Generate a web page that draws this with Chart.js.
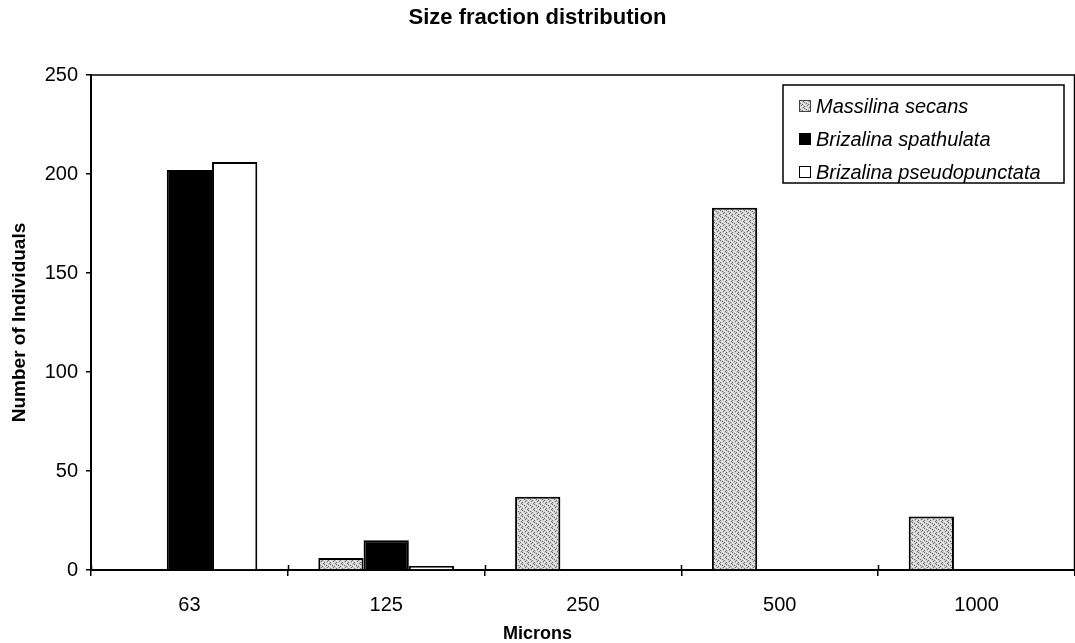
<!DOCTYPE html>
<html>
<head>
<meta charset="utf-8">
<title>Size fraction distribution</title>
<script src="https://cdn.jsdelivr.net/npm/chart.js@4.4.1/dist/chart.umd.min.js"></script>
<style>
  html, body { margin: 0; padding: 0; background: #fff; }
  #wrap { width: 1075px; height: 643px; position: relative; }
</style>
</head>
<body>
<div id="wrap"><canvas id="chart" width="1075" height="643"></canvas></div>
<script>
// Size classes (sieve mesh, microns) and counts per species
const sizeClasses = ['63', '125', '250', '500', '1000'];
const seriesNames = ['Massilina secans', 'Brizalina spathulata', 'Brizalina pseudopunctata'];
const massilinaSecans = [0, 6, 37, 183, 27];
const brizalinaSpathulata = [202, 15, 0, 0, 0];
const brizalinaPseudopunctata = [206, 2, 0, 0, 0];
const yTickValues = [0, 50, 100, 150, 200, 250];

// Stippled grey fill used for Massilina secans
function makeStipple() {
  const tile = document.createElement('canvas');
  tile.width = 6; tile.height = 6;
  const g = tile.getContext('2d');
  g.fillStyle = '#cfcfcf';
  g.fillRect(0, 0, 6, 6);
  const map = ['0..1..', '..0..1', '1...0.', '.1.0..', '0...1.', '..1..0'];
  for (let r = 0; r < 6; r++) {
    for (let c = 0; c < 6; c++) {
      const ch = map[r][c];
      if (ch === '0') { g.fillStyle = '#707070'; g.fillRect(c, r, 1, 1); }
      if (ch === '1') { g.fillStyle = '#f4f4f4'; g.fillRect(c, r, 1, 1); }
    }
  }
  return g.createPattern(tile, 'repeat');
}

const ctx = document.getElementById('chart').getContext('2d');
const stipple = makeStipple();

Chart.defaults.font.family = '"Liberation Sans", Arial, Helvetica, sans-serif';
Chart.defaults.color = '#000';

// Top and right edges of the plot frame, plus separators crossing the axis
const plotFrame = {
  id: 'plotFrame',
  afterDraw(chart) {
    const { ctx, chartArea: a } = chart;
    ctx.save();
    ctx.strokeStyle = '#000';
    ctx.lineWidth = 1.5;
    ctx.beginPath();
    ctx.moveTo(a.left, a.top);
    ctx.lineTo(a.right, a.top);
    ctx.moveTo(a.right - 0.5, a.top);
    ctx.lineTo(a.right - 0.5, a.bottom);
    ctx.stroke();
    const xs = chart.scales.x;
    ctx.beginPath();
    for (let i = 0; i <= sizeClasses.length; i++) {
      const px = Math.round(xs.getPixelForValue(i - 0.5)) + 0.5;
      ctx.moveTo(px, a.bottom - 5);
      ctx.lineTo(px, a.bottom);
    }
    ctx.stroke();
    ctx.restore();
  }
};

// Boxed legend in the upper right of the plot
const boxedLegend = {
  id: 'boxedLegend',
  afterDraw(chart) {
    const { ctx } = chart;
    const x0 = 783, y0 = 85, w = 281, h = 98;
    ctx.save();
    ctx.fillStyle = '#fff';
    ctx.fillRect(x0, y0, w, h);
    ctx.strokeStyle = '#000';
    ctx.lineWidth = 1.5;
    ctx.strokeRect(x0, y0, w, h);
    ctx.font = 'italic 20px "Liberation Sans", Arial, sans-serif';
    ctx.textBaseline = 'middle';
    chart.data.datasets.forEach((ds, i) => {
      const cy = y0 + 21 + i * 33;
      ctx.fillStyle = ds.backgroundColor;
      ctx.fillRect(x0 + 16, cy - 6, 12, 12);
      ctx.strokeStyle = i === 0 ? '#444' : '#000';
      ctx.lineWidth = 1;
      ctx.strokeRect(x0 + 16.5, cy - 5.5, 11, 11);
      ctx.fillStyle = '#000';
      ctx.fillText(ds.label, x0 + 33, cy + 1);
    });
    ctx.restore();
  }
};

new Chart(ctx, {
  type: 'bar',
  data: {
    labels: sizeClasses,
    datasets: [
      { label: seriesNames[0], data: massilinaSecans, backgroundColor: stipple, borderColor: '#000', borderWidth: 2 },
      { label: seriesNames[1], data: brizalinaSpathulata, backgroundColor: '#000', borderColor: '#000', borderWidth: 2 },
      { label: seriesNames[2], data: brizalinaPseudopunctata, backgroundColor: '#fff', borderColor: '#000', borderWidth: 2 }
    ]
  },
  options: {
    responsive: false,
    animation: false,
    layout: { padding: 0 },
    datasets: { bar: { categoryPercentage: 0.69, barPercentage: 1.0 } },
    plugins: {
      legend: { display: false },
      tooltip: { enabled: false },
      title: {
        display: true,
        text: 'Size fraction distribution',
        color: '#000',
        font: { size: 22, weight: 'bold', lineHeight: 1.2 },
        padding: { top: 5, bottom: 43.6 }
      },
      // x-axis caption, centred on the page
      subtitle: {
        display: true,
        position: 'bottom',
        text: 'Microns',
        color: '#000',
        font: { size: 18, weight: 'bold', lineHeight: 1 },
        padding: { top: 0, bottom: 0 }
      }
    },
    scales: {
      x: {
        offset: true,
        afterFit(s) { s.height = 55; },
        ticks: { padding: 17, font: { size: 20 }, color: '#000' },
        grid: { display: true, offset: true, drawOnChartArea: false, tickLength: 6, color: '#000', lineWidth: 1.5 },
        border: { display: true, color: '#000', width: 2 }
      },
      y: {
        min: 0,
        max: 250,
        afterFit(s) { s.width = 91; },
        afterBuildTicks(s) { s.ticks = yTickValues.map(v => ({ value: v })); },
        ticks: { padding: 8, font: { size: 20 }, color: '#000' },
        grid: { display: true, drawOnChartArea: false, tickLength: 5, color: '#000', lineWidth: 1.5 },
        border: { display: true, color: '#000', width: 2 },
        title: { display: true, text: 'Number of Individuals', color: '#000', font: { size: 19, weight: 'bold' }, padding: { top: 8 } }
      }
    }
  },
  plugins: [plotFrame, boxedLegend]
});
</script>
</body>
</html>
